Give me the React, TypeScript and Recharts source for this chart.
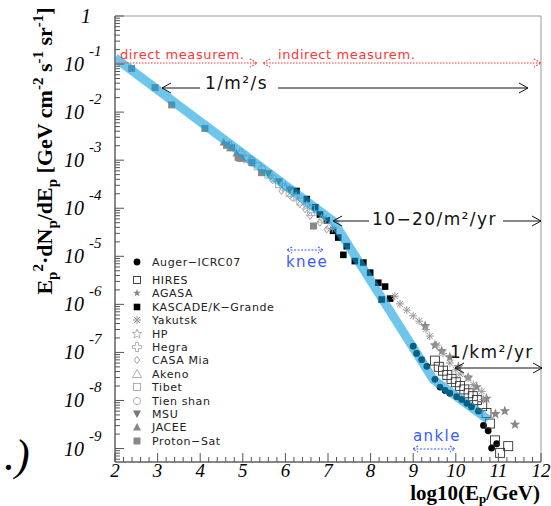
import { ComposedChart, Scatter, XAxis, YAxis, ReferenceArea } from "recharts";

// x = log10(E/GeV), y = log10(E^2 dN/dE)
const auger = [
  [9.0, -6.87], [9.08, -7.02], [9.2, -7.15], [9.32, -7.29], [9.51, -7.56], [9.63, -7.72],
  [9.75, -7.79], [9.86, -7.85], [10.02, -7.92], [10.14, -7.98], [10.26, -8.06], [10.37, -8.13],
  [10.53, -8.22], [10.65, -8.52], [10.76, -8.63], [10.84, -8.99], [10.96, -8.9],
];
const hires = [
  [9.51, -7.17], [9.6, -7.3], [9.7, -7.38], [9.8, -7.47], [9.9, -7.55], [10.0, -7.62],
  [10.1, -7.7], [10.2, -7.77], [10.3, -7.85], [10.4, -7.91], [10.5, -7.99], [10.62, -8.12],
  [10.72, -8.26], [10.8, -8.48], [10.92, -8.83], [11.04, -9.09], [11.23, -8.95],
];
const agasa = [
  [9.28, -6.45], [9.51, -6.85], [9.67, -6.97], [9.86, -7.1], [10.06, -7.3], [10.29, -7.52],
  [10.49, -7.72], [10.72, -7.96], [10.93, -8.28], [11.15, -8.22], [11.39, -8.5],
];
const kascade = [
  [6.26, -3.64], [6.5, -3.81], [6.7, -3.98], [6.81, -4.13], [6.97, -4.25], [7.12, -4.47],
  [7.24, -4.61], [7.36, -4.97], [7.44, -4.79], [7.63, -5.1], [7.83, -5.13], [7.99, -5.34],
  [8.18, -5.55], [8.34, -5.63], [8.26, -5.9], [8.46, -5.88],
];
const yakutsk = [
  [6.9, -4.2], [7.1, -4.42], [8.57, -5.83], [8.69, -5.99], [8.85, -6.12], [9.0, -6.24],
  [9.14, -6.35], [9.3, -6.52], [9.39, -6.66], [9.55, -6.85], [9.7, -7.02], [9.86, -7.22],
  [10.0, -7.36], [10.1, -7.45], [10.29, -7.53], [10.41, -7.67], [10.61, -7.81], [10.65, -7.98],
];
const hp = [[6.0, -3.57], [6.25, -3.76], [6.5, -3.95]];
const hegra = [[4.7, -2.7], [4.95, -2.86], [5.2, -3.03]];
const casaMia = [
  [5.7, -3.42], [5.91, -3.64], [6.11, -3.74], [6.34, -3.92], [6.46, -4.02], [6.58, -4.16],
  [6.81, -4.3], [6.97, -4.44],
];
const akeno = [[6.6, -4.08], [6.85, -4.22], [7.05, -4.36]];
const tibet = [[5.1, -2.98], [5.35, -3.13], [5.6, -3.3], [5.85, -3.5], [6.1, -3.68], [6.35, -3.86], [6.6, -4.02]];
const tienShan = [[5.2, -3.0], [5.45, -3.18], [5.7, -3.38], [5.95, -3.56], [6.2, -3.78]];
const msu = [[5.6, -3.28], [5.85, -3.45], [6.1, -3.62]];
const jacee = [[4.55, -2.62], [4.7, -2.74], [4.85, -2.85], [5.0, -2.96]];
const protonSat = [
  [2.39, -1.09], [2.94, -1.49], [3.33, -1.85], [4.11, -2.34], [4.62, -2.69], [4.74, -2.74],
  [4.89, -2.94], [4.93, -2.96], [5.21, -3.05], [5.44, -3.26], [6.66, -4.37],
];

// broken power-law fit (blue band)
const fitX = [2, 7.12, 9.47, 10.76];
const fitY = [-0.87, -4.27, -7.56, -8.4];

const xMajor = [2, 3, 4, 5, 6, 7, 8, 9, 10, 11, 12];
const Y_MIN = -9.28;

const xTicks: number[] = [];
xMajor.forEach((v, i) => {
  xTicks.push(v);
  if (i < xMajor.length - 1) [0.2, 0.4, 0.6, 0.8].forEach((d) => xTicks.push(v + d));
});
const yTicks: number[] = [];
for (let n = -10; n < 0; n++) {
  for (let k = 1; k <= 9; k++) {
    const t = n + Math.log10(k);
    if (t >= Y_MIN) yTicks.push(t);
  }
}
yTicks.push(0);

const toPts = (arr: number[][]) => arr.map(([x, y]) => ({ x, y }));
const fitData = fitX.map((x, i) => ({ x, y: fitY[i] }));

const starPath = (cx: number, cy: number, r: number) => {
  let d = "";
  for (let i = 0; i < 10; i++) {
    const a = -Math.PI / 2 + (i * Math.PI) / 5;
    const rr = i % 2 === 0 ? r : r * 0.42;
    d += (i === 0 ? "M" : "L") + (cx + rr * Math.cos(a)).toFixed(2) + "," + (cy + rr * Math.sin(a)).toFixed(2);
  }
  return d + "Z";
};

const Marker = ({ kind, cx, cy, legend }: { kind: string; cx: number; cy: number; legend?: boolean }) => {
  switch (kind) {
    case "dot":
      return <circle cx={cx} cy={cy} r={3.4} fill="#000" />;
    case "hires": {
      const h = legend ? 3.5 : 4.5;
      return <rect x={cx - h} y={cy - h} width={2 * h} height={2 * h} fill="none" stroke="#333" strokeWidth={0.9} />;
    }
    case "star":
      return <path d={starPath(cx, cy, legend ? 4 : 5.5)} fill="#888" />;
    case "square":
      return <rect x={cx - 3.3} y={cy - 3.3} width={6.6} height={6.6} fill="#000" />;
    case "asterisk":
      return (
        <g stroke="#999" strokeWidth={1}>
          <line x1={cx - 4} y1={cy} x2={cx + 4} y2={cy} />
          <line x1={cx} y1={cy - 4} x2={cx} y2={cy + 4} />
          <line x1={cx - 3} y1={cy - 3} x2={cx + 3} y2={cy + 3} />
          <line x1={cx - 3} y1={cy + 3} x2={cx + 3} y2={cy - 3} />
        </g>
      );
    case "openStar":
      return <path d={starPath(cx, cy, 5)} fill="none" stroke="#aaa" strokeWidth={0.9} />;
    case "cross":
      return (
        <path
          d={`M${cx - 1.5},${cy - 4.5}h3v3h3v3h-3v3h-3v-3h-3v-3h3Z`}
          fill="none"
          stroke="#aaa"
          strokeWidth={0.9}
        />
      );
    case "diamond":
      return <path d={`M${cx},${cy - 3.5}L${cx + 2.6},${cy}L${cx},${cy + 3.5}L${cx - 2.6},${cy}Z`} fill="none" stroke="#999" strokeWidth={0.9} />;
    case "openTri":
      return <path d={`M${cx},${cy - 4.5}L${cx + 4.5},${cy + 3.5}L${cx - 4.5},${cy + 3.5}Z`} fill="none" stroke="#aaa" strokeWidth={0.9} />;
    case "openSquare":
      return <rect x={cx - 3.5} y={cy - 3.5} width={7} height={7} fill="none" stroke="#aaa" strokeWidth={0.9} />;
    case "openCircle":
      return <circle cx={cx} cy={cy} r={3.6} fill="none" stroke="#aaa" strokeWidth={0.9} />;
    case "downTri":
      return <path d={`M${cx - 4},${cy - 3.5}L${cx + 4},${cy - 3.5}L${cx},${cy + 4}Z`} fill="#777" />;
    case "upTri":
      return <path d={`M${cx},${cy - 4}L${cx + 4},${cy + 3.5}L${cx - 4},${cy + 3.5}Z`} fill="#888" />;
    default:
      return <rect x={cx - 3.5} y={cy - 3.5} width={7} height={7} fill="#888" />;
  }
};

const series = [
  { name: "Auger\u2212ICRC07", data: auger, kind: "dot" },
  { name: "HIRES", data: hires, kind: "hires" },
  { name: "AGASA", data: agasa, kind: "star" },
  { name: "KASCADE/K\u2212Grande", data: kascade, kind: "square" },
  { name: "Yakutsk", data: yakutsk, kind: "asterisk" },
  { name: "HP", data: hp, kind: "openStar" },
  { name: "Hegra", data: hegra, kind: "cross" },
  { name: "CASA Mia", data: casaMia, kind: "diamond" },
  { name: "Akeno", data: akeno, kind: "openTri" },
  { name: "Tibet", data: tibet, kind: "openSquare" },
  { name: "Tien shan", data: tienShan, kind: "openCircle" },
  { name: "MSU", data: msu, kind: "downTri" },
  { name: "JACEE", data: jacee, kind: "upTri" },
  { name: "Proton\u2212Sat", data: protonSat, kind: "graySquare" },
];
const legendY = [262, 280, 293, 307, 320, 334, 347, 360, 374, 387, 401, 414, 427, 441];

const isMajor = (v: number) => Math.abs(v - Math.round(v)) < 1e-6;
const serif = "'Liberation Serif', 'Times New Roman', serif";
const sans = "'DejaVu Sans', sans-serif";

const YTick = (props: any) => {
  const { x, y, payload } = props;
  const v = payload.value;
  const major = isMajor(v);
  return (
    <g>
      <line x1={x} x2={x + (major ? 9 : 5)} y1={y} y2={y} stroke="#555" strokeWidth={1} />
      {major &&
        (Math.round(v) === 0 ? (
          <text x={91} y={y + 7} textAnchor="end" fontFamily={serif} fontStyle="italic" fontSize={20} fill="#000">
            1
          </text>
        ) : (
          <g fontFamily={serif} fontStyle="italic" fill="#000">
            <text x={84} y={y + 7} textAnchor="end" fontSize={20}>
              10
            </text>
            <text x={89} y={y - 8} fontSize={15}>
              {"-" + Math.abs(Math.round(v))}
            </text>
          </g>
        ))}
    </g>
  );
};

const XTick = (props: any) => {
  const { x, y, payload } = props;
  const v = payload.value;
  const major = isMajor(v);
  return (
    <g>
      <line x1={x} x2={x} y1={y} y2={y - (major ? 9 : 5)} stroke="#555" strokeWidth={1} />
      {major && (
        <text x={x} y={y + 15} textAnchor="middle" fontFamily={serif} fontStyle="italic" fontSize={19} fill="#000">
          {Math.round(v)}
        </text>
      )}
    </g>
  );
};

const Overlay = () => (
  <svg width={551} height={506} style={{ position: "absolute", left: 0, top: 0, pointerEvents: "none" }}>
    {/* y title */}
    <text transform="translate(52,151) rotate(-90)" textAnchor="middle" fontFamily={serif} fontWeight="bold" fontSize={22} fill="#000">
      E<tspan dy={5} fontSize={15}>p</tspan>
      <tspan dy={-14} fontSize={15}>2</tspan>
      <tspan dy={9}>·dN</tspan>
      <tspan dy={5} fontSize={15}>p</tspan>
      <tspan dy={-5}>/dE</tspan>
      <tspan dy={5} fontSize={15}>p</tspan>
      <tspan dy={-5}> [GeV cm</tspan>
      <tspan dy={-9} fontSize={15}>-2</tspan>
      <tspan dy={9}> s</tspan>
      <tspan dy={-9} fontSize={15}>-1</tspan>
      <tspan dy={9}> sr</tspan>
      <tspan dy={-9} fontSize={15}>-1</tspan>
      <tspan dy={9}>]</tspan>
    </text>
    {/* x title */}
    <text x={540} y={500} textAnchor="end" fontFamily={serif} fontWeight="bold" fontSize={21} fill="#000">
      log10(E<tspan dy={3} fontSize={13}>p</tspan>
      <tspan dy={-3}>/GeV)</tspan>
    </text>
    <text x={4} y={470} fontFamily={serif} fontStyle="italic" fontSize={44} fill="#000">
      .)
    </text>

    {/* direct / indirect */}
    <g stroke="#ff3535" strokeWidth={1.2} strokeDasharray="1.5 1.5" fill="none">
      <line x1={115} y1={63} x2={257} y2={63} />
      <polyline points="250,59 257,63 250,67" />
      <line x1={263} y1={63} x2={541} y2={63} />
      <polyline points="270,59 263,63 270,67" />
      <polyline points="534,59 541,63 534,67" />
    </g>
    <g fontFamily={sans} fontSize={13} fill="#ff3535" letterSpacing={0.6}>
      <text x={120} y={59}>direct measurem.</text>
      <text x={278} y={59}>indirect measurem.</text>
    </g>

    {/* flux arrows */}
    <g stroke="#111" strokeWidth={1} fill="none">
      <line x1={162} y1={88} x2={200} y2={88} />
      <polyline points="171,83 162,88 171,93" />
      <line x1={278} y1={88} x2={528} y2={88} />
      <polyline points="519,83 528,88 519,93" />
      <line x1={333} y1={221} x2={369} y2={221} />
      <polyline points="342,216 333,221 342,226" />
      <line x1={503} y1={221} x2={541} y2={221} />
      <polyline points="532,216 541,221 532,226" />
      <line x1={455} y1={368} x2={542} y2={368} />
      <polyline points="464,363 455,368 464,373" />
      <polyline points="533,363 542,368 533,373" />
    </g>
    <g fontFamily={sans} fontSize={17} fill="#111" letterSpacing={1.4}>
      <text x={205} y={89}>1/m²/s</text>
      <text x={372} y={225}>10−20/m²/yr</text>
      <text x={450} y={358}>1/km²/yr</text>
    </g>

    {/* knee / ankle */}
    <g stroke="#3a5cff" strokeWidth={1.1} strokeDasharray="2 1.5" fill="none">
      <line x1={287} y1={250} x2={323} y2={250} />
      <polyline points="292,247 287,250 292,253" />
      <polyline points="318,247 323,250 318,253" />
      <line x1={413} y1={449} x2={455} y2={449} />
      <polyline points="418,446 413,449 418,452" />
      <polyline points="450,446 455,449 450,452" />
    </g>
    <g fontFamily={sans} fontSize={15} fill="#3a5cff" letterSpacing={1.4}>
      <text x={286} y={267}>knee</text>
      <text x={413} y={441}>ankle</text>
    </g>

    {/* legend */}
    {series.map((s, i) => (
      <g key={s.name}>
        <Marker kind={s.kind} cx={137} cy={legendY[i]} legend />
        <text x={152} y={legendY[i] + 4} fontFamily={sans} fontSize={11} letterSpacing={0.6} fill="#222">
          {s.name}
        </text>
      </g>
    ))}
  </svg>
);

export default function App() {
  return (
    <div style={{ position: "absolute", left: 0, top: 0, width: 551, height: 506, background: "#fff" }}>
      <ComposedChart width={551} height={506} margin={{ top: 16, right: 10, bottom: 0, left: 0 }}>
        <XAxis
          type="number"
          dataKey="x"
          domain={[2, 12]}
          ticks={xTicks}
          interval={0}
          allowDataOverflow
          tick={<XTick />}
          tickLine={false}
          tickSize={0}
          tickMargin={0}
          height={44}
          stroke="#444"
        />
        <YAxis
          type="number"
          dataKey="y"
          domain={[Y_MIN, 0]}
          ticks={yTicks}
          interval={0}
          allowDataOverflow
          tick={<YTick />}
          tickLine={false}
          tickSize={0}
          tickMargin={0}
          width={115}
          stroke="#444"
        />
        <ReferenceArea x1={2} x2={12} y1={Y_MIN} y2={0} fill="none" stroke="#999" strokeWidth={1} />
        {series.map((s) => (
          <Scatter
            key={s.name}
            name={s.name}
            data={toPts(s.data)}
            isAnimationActive={false}
            shape={(p: any) => <Marker kind={s.kind} cx={p.cx} cy={p.cy} />}
          />
        ))}
        {/* fit band drawn last so the markers show through it */}
        <Scatter
          name="fit"
          data={fitData}
          isAnimationActive={false}
          line={{ stroke: "rgb(15,160,220)", strokeOpacity: 0.6, strokeWidth: 9, fill: "none" }}
          lineJointType="linear"
          shape={() => <g />}
        />
      </ComposedChart>
      <Overlay />
    </div>
  );
}
